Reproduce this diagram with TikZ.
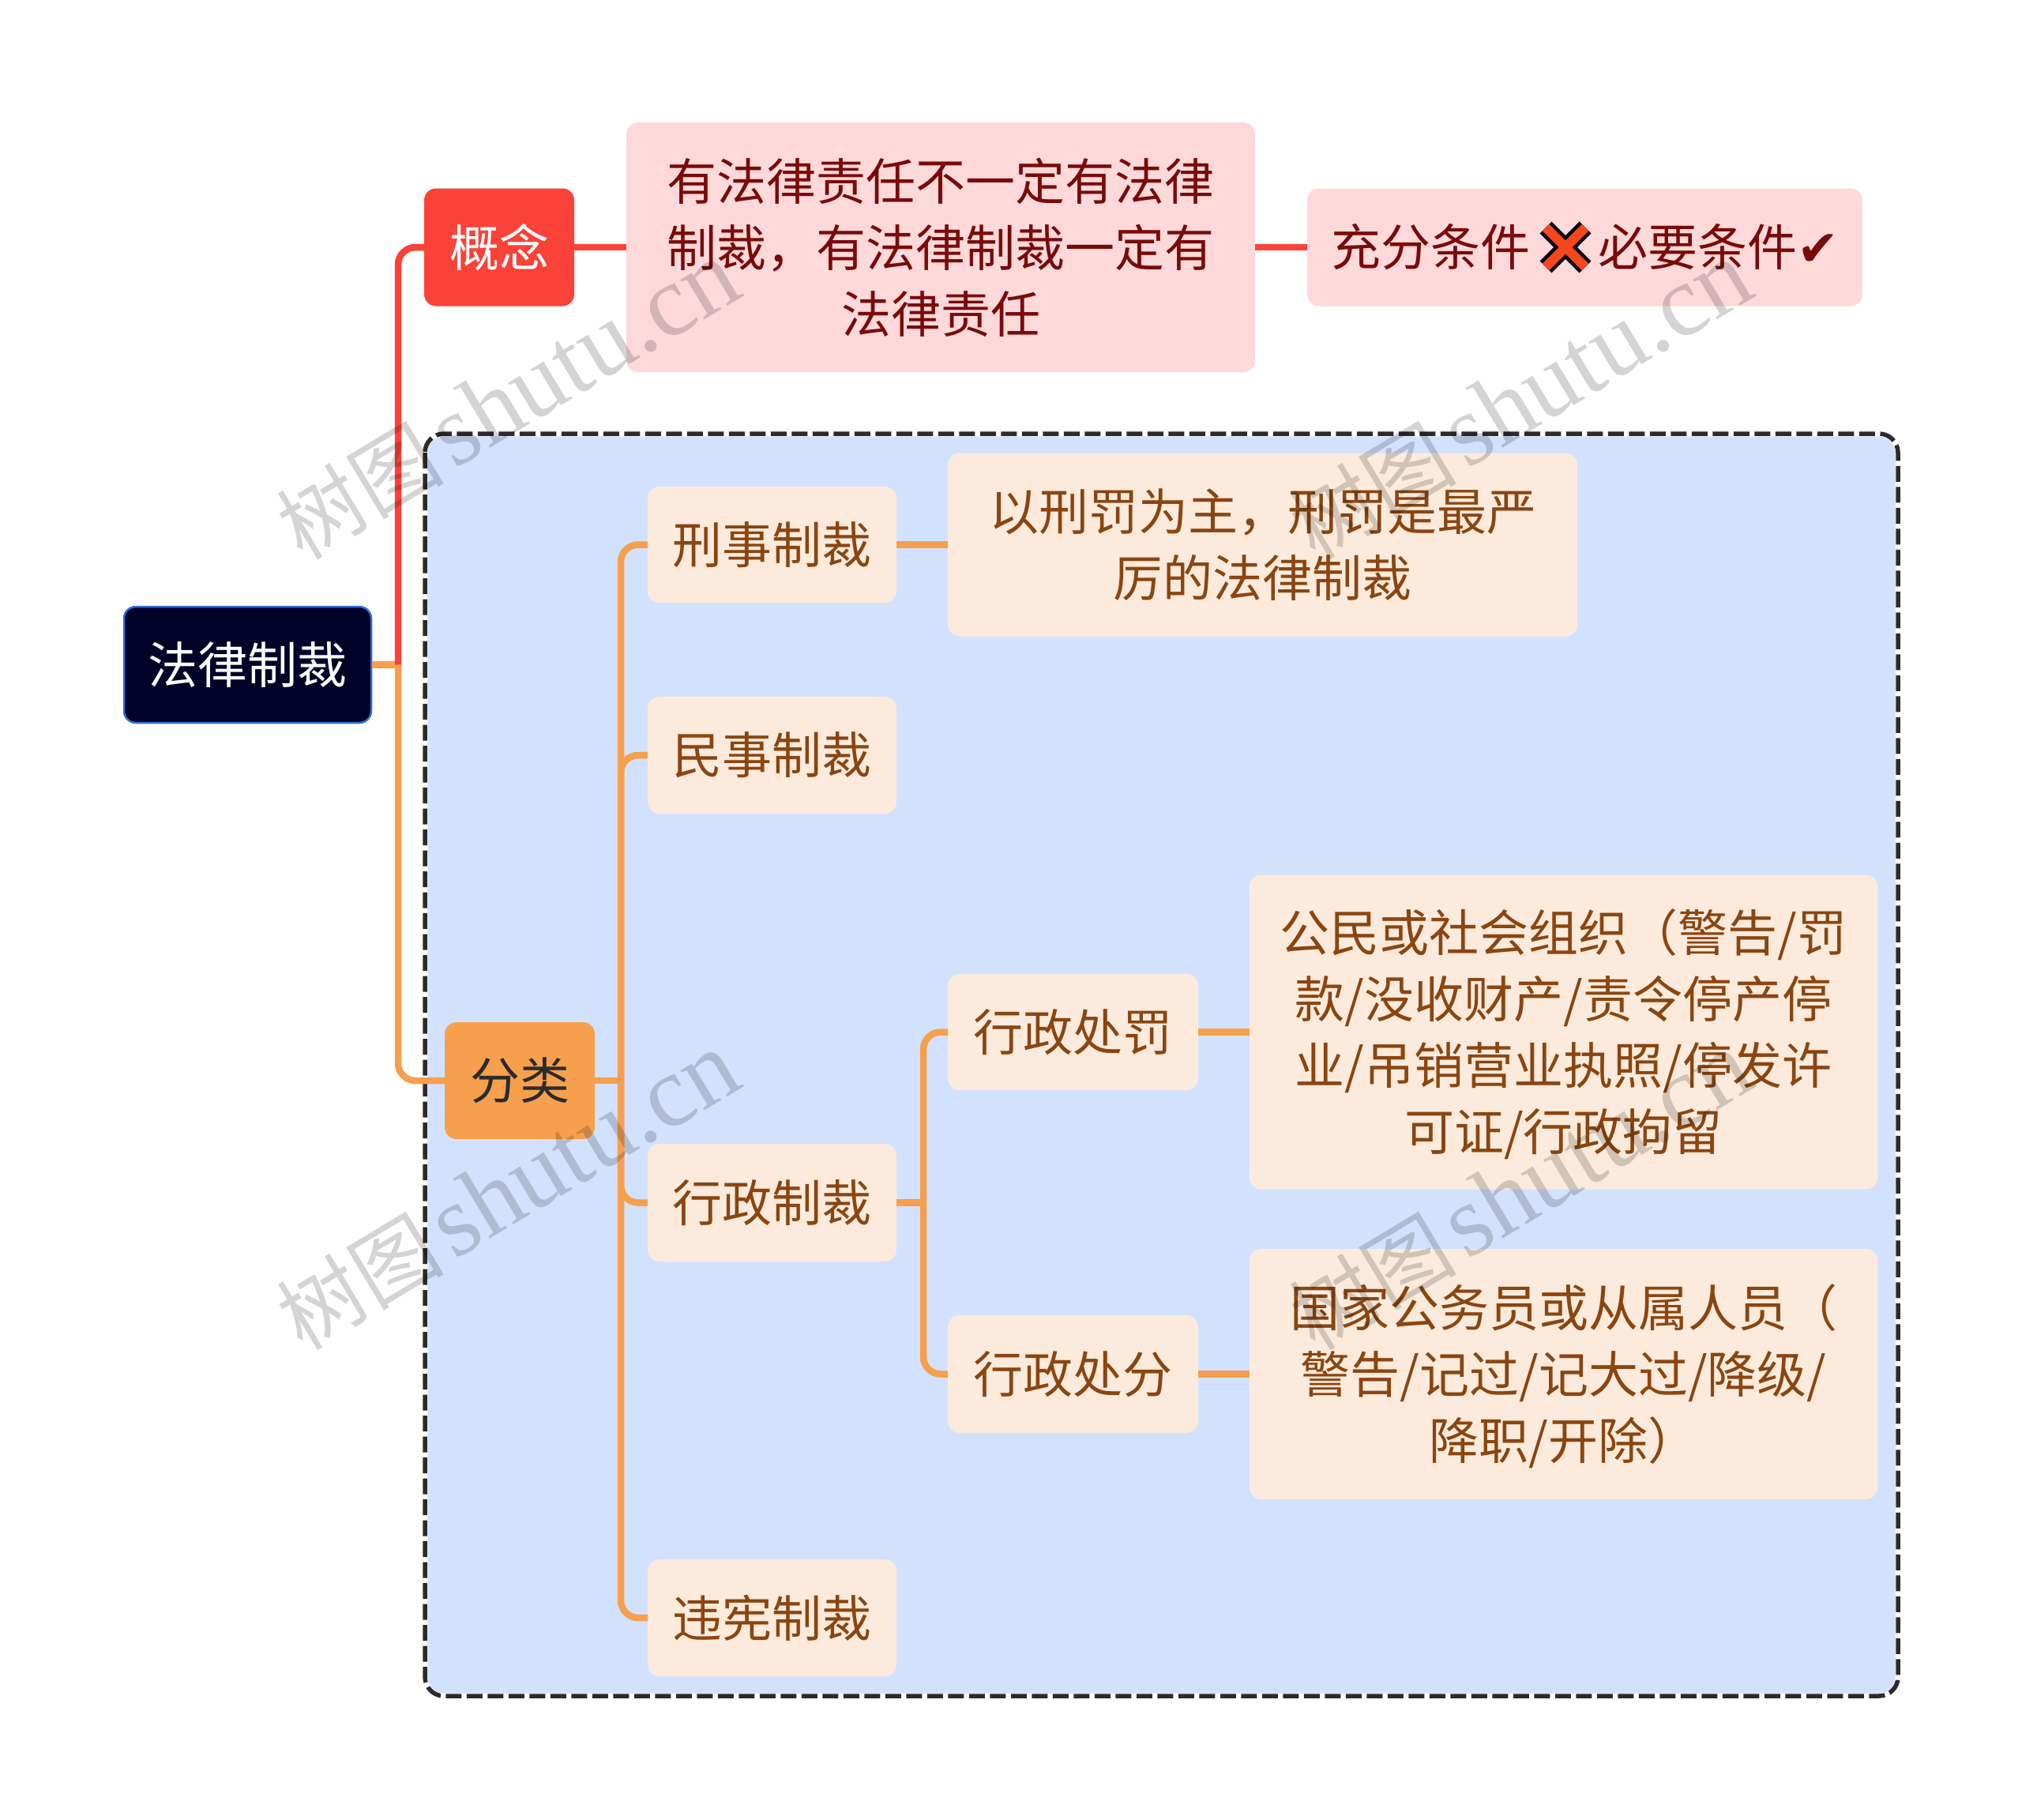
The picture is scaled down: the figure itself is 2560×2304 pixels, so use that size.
\documentclass[tikz,border=0pt]{standalone}
\usepackage{fontspec}
\setmainfont{Noto Sans CJK SC}
\newfontfamily\dejavu{DejaVu Sans}
\newfontfamily\wmlatin{Liberation Serif}
\newfontfamily\wmcjk{Noto Sans CJK SC}
\usetikzlibrary{positioning}
\definecolor{rootfill}{HTML}{020228}
\definecolor{rootedge}{HTML}{2F6FD8}
\definecolor{redc}{HTML}{FB4239}
\definecolor{pinkc}{HTML}{FED9D9}
\definecolor{redtext}{HTML}{7A0A0A}
\definecolor{orangec}{HTML}{F6A04D}
\definecolor{creamc}{HTML}{FCEBDC}
\definecolor{browntext}{HTML}{8B4510}
\definecolor{bluec}{HTML}{D2E2FE}
\definecolor{darkc}{HTML}{2B2B2B}
\definecolor{xfill}{HTML}{F4471E}
\tikzset{
  x=1pt,y=-1pt,
  card/.style={rectangle,rounded corners=15pt,inner sep=0pt,align=center,font=\fontsize{63}{84}\selectfont},
  rootbox/.style={card,fill=rootfill,draw=rootedge,line width=2.5pt,text=white},
  redbox/.style={card,fill=redc,text=white},
  pinkbox/.style={card,fill=pinkc,text=redtext},
  orangebox/.style={card,fill=orangec,text=darkc},
  creambox/.style={card,fill=creamc,text=browntext},
  redlink/.style={draw=redc,line width=8.5pt,rounded corners=22pt},
  orangelink/.style={draw=orangec,line width=8.5pt,rounded corners=22pt},
  wmark/.style={rotate=31,text=black,opacity=.17,inner sep=0pt},
}
\newcommand{\wmtext}{{\fontsize{106}{120}\wmcjk\selectfont 树图}\hspace{12pt}{\fontsize{128}{140}\wmlatin\selectfont shutu.cn}}
\begin{document}
\begin{tikzpicture}
\useasboundingbox (0,0) rectangle (2560,2304);
% group background
\draw[white,line width=6.5pt,fill=bluec,rounded corners=24pt] (538,549) rectangle (2403,2147);
\draw[darkc,line width=5.5pt,dash pattern=on 20pt off 6.5pt,rounded corners=24pt] (538,549) rectangle (2403,2147);
% nodes
\node[rootbox,minimum width=313pt,minimum height=147pt] (root) at (313.5,841.5) {法律制裁};
\node[redbox,minimum width=190pt,minimum height=149pt] (gn) at (632,313) {概念};
\node[pinkbox,minimum width=796pt,minimum height=316pt] (p1) at (1191,313) {有法律责任不一定有法律\\制裁，有法律制裁一定有\\法律责任};
\node[pinkbox,minimum width=703pt,minimum height=149pt] (p2) at (2006.5,313) {充分条件\hspace{86pt}必要条件{\dejavu ✔}};
\node[orangebox,minimum width=190pt,minimum height=148pt] (fl) at (658,1368) {分类};
\node[creambox,minimum width=315pt,minimum height=147pt] (xs) at (977.5,689.5) {刑事制裁};
\node[creambox,minimum width=797pt,minimum height=232pt] (xsb) at (1598.5,689.5) {以刑罚为主，刑罚是最严\\厉的法律制裁};
\node[creambox,minimum width=315pt,minimum height=148pt] (ms) at (977.5,956) {民事制裁};
\node[creambox,minimum width=315pt,minimum height=149pt] (xz) at (977.5,1522.5) {行政制裁};
\node[creambox,minimum width=315pt,minimum height=148pt] (wx) at (977.5,2048) {违宪制裁};
\node[creambox,minimum width=317pt,minimum height=147pt] (cf) at (1358.5,1306.5) {行政处罚};
\node[creambox,minimum width=795pt,minimum height=398pt] (cfb) at (1979.5,1306.5) {\rule{0pt}{59pt}公民或社会组织（警告/罚\\款/没收财产/责令停产停\\业/吊销营业执照/停发许\\可证/行政拘留};
\node[creambox,minimum width=317pt,minimum height=149pt] (cg) at (1358.5,1739.5) {行政处分};
\node[creambox,minimum width=795pt,minimum height=317pt] (cgb) at (1979.5,1739.5) {\rule{0pt}{59pt}国家公务员或从属人员（\\警告/记过/记大过/降级/\\降职/开除）};
% trunks
\coordinate (t1) at (504,0);
\coordinate (t2) at (786,0);
\coordinate (t3) at (1169,0);
% connectors
\draw[orangelink] (root.east) -- (t1 |- root.east);
\draw[redlink] (t1 |- root.east) -- (t1 |- gn.west) -- (gn.west);
\draw[orangelink] (t1 |- root.east) -- (t1 |- fl.west) -- (fl.west);
\draw[redlink] (gn.east) -- (p1.west);
\draw[redlink] (p1.east) -- (p2.west);
\draw[orangelink] (fl.east) -- (t2 |- fl.east);
\draw[orangelink] (t2 |- fl.east) -- (t2 |- xs.west) -- (xs.west);
\draw[orangelink] (t2 |- fl.east) -- (t2 |- ms.west) -- (ms.west);
\draw[orangelink] (t2 |- fl.east) -- (t2 |- xz.west) -- (xz.west);
\draw[orangelink] (t2 |- fl.east) -- (t2 |- wx.west) -- (wx.west);
\draw[orangelink] (xs.east) -- (xsb.west);
\draw[orangelink] (xz.east) -- (t3 |- xz.east);
\draw[orangelink] (t3 |- xz.east) -- (t3 |- cf.west) -- (cf.west);
\draw[orangelink] (t3 |- xz.east) -- (t3 |- cg.west) -- (cg.west);
\draw[orangelink] (cf.east) -- (cfb.west);
\draw[orangelink] (cg.east) -- (cgb.west);
% cross emoji
\draw[black,line width=21pt] (1957,288) -- (2007,338) (2007,288) -- (1957,338);
\draw[xfill,line width=12pt] (1957,288) -- (2007,338) (2007,288) -- (1957,338);
% watermarks
\node[wmark] (w1) at (643,507) {\wmtext};
\node[wmark] (w2) at (1925,507) {\wmtext};
\node[wmark] (w3) at (643,1508) {\wmtext};
\node[wmark] (w4) at (1925,1508) {\wmtext};
\end{tikzpicture}
\end{document}
